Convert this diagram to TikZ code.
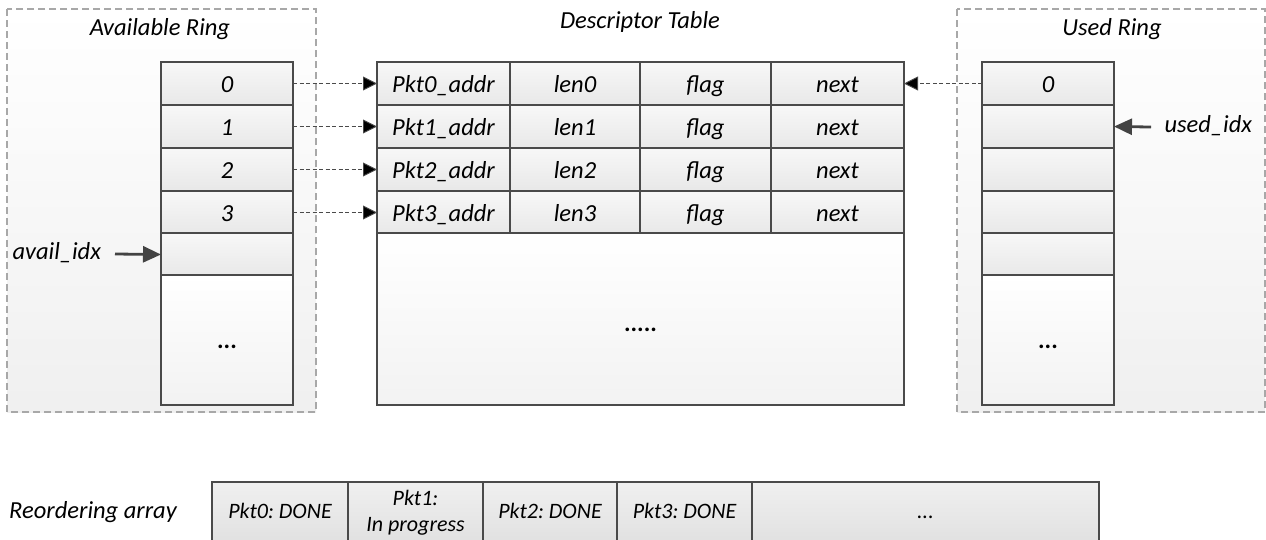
\documentclass[tikz,border=0pt]{standalone}
\usepackage{fontspec}
\setmainfont{Carlito}
\usetikzlibrary{arrows.meta}
\definecolor{edge}{HTML}{4A4A4A}
\definecolor{groupedge}{HTML}{A8A8A8}
\frenchspacing
\begin{document}
\begin{tikzpicture}[x=1pt,y=-1pt,
  every node/.style={font=\fontsize{24.5}{29}\selectfont\itshape, text=black},
  group/.style={draw=groupedge, line width=1.1pt, dash pattern=on 7pt off 4pt,
    top color=white, bottom color=black!6},
  cell/.style={draw=edge, line width=1.6pt, anchor=north west, inner sep=0pt,
    outer sep=0pt, minimum height=43pt, top color=white!97!black, bottom color=black!9,
    text height=19pt, text depth=2pt},
  bigcell/.style={draw=edge, line width=1.6pt, anchor=north west, inner sep=0pt,
    outer sep=0pt, top color=white, bottom color=black!5,
    text height=19pt, text depth=2pt, font=\fontsize{24.5}{29}\selectfont\bfseries},
  arrcell/.style={draw=edge, line width=1.6pt, anchor=north west, inner sep=0pt,
    outer sep=0pt, minimum height=62pt, top color=black!6, bottom color=black!12,
    font=\fontsize{22}{26}\selectfont\itshape, align=center},
  oneline/.style={text height=15pt, text depth=5pt},
  ptr/.style={draw=edge, line width=0.9pt, dash pattern=on 4pt off 2.5pt,
    -{Triangle[length=14pt,width=14pt,fill=black]}},
  idx/.style={draw=edge!90!black, line width=2.8pt,
    -{Triangle[length=18pt,width=16pt]}},
  title/.style={anchor=center}
]
\useasboundingbox (0,0) rectangle (1266,539);
\clip (0,0) rectangle (1266,539);

% group frames
\draw[group] (7,9) rectangle (316,412);
\draw[group] (957,9) rectangle (1265,412);
\node[title] (avtitle) at (160,29) {Available Ring};
\node[title] (dttitle) at (640,22) {Descriptor Table};
\node[title] (usedtitle) at (1112,29) {Used Ring};

% available ring
\foreach \r/\y/\t in {0/62/0,1/105/1,2/148/2,3/191/3,4/233/{}}
  \node[cell, minimum width=132pt] (a\r) at (161,\y) {\t};
\node[bigcell, minimum width=132pt, minimum height=130pt] (adots) at (161,275) {...};

% descriptor table
\foreach \r/\y in {0/62,1/105,2/148,3/191}{
  \node[cell, minimum width=133pt] (d\r1) at (377,\y) {Pkt\r\_addr};
  \node[cell, minimum width=130pt] (d\r2) at (510,\y) {len\r};
  \node[cell, minimum width=131pt] (d\r3) at (640,\y) {flag};
  \node[cell, minimum width=133pt] (d\r4) at (771,\y) {next};
}
\node[bigcell, minimum width=527pt, minimum height=172pt, text height=24pt,
  text depth=0pt] (drest) at (377,233) {.....};

% used ring
\foreach \r/\y/\t in {0/62/0,1/105/{},2/148/{},3/191/{},4/233/{}}
  \node[cell, minimum width=132pt] (u\r) at (982,\y) {\t};
\node[bigcell, minimum width=132pt, minimum height=130pt] (udots) at (982,275) {...};

% descriptor pointers
\foreach \r in {0,1,2,3}
  \draw[ptr] (a\r.east) -- (d\r1.west);
\draw[ptr] (u0.west) -- (d04.east);

% ring indices
\node[anchor=west, oneline] (availlbl) at (9,254) {avail\_idx};
\coordinate (availtail) at (115,254);
\draw[idx] (availtail) -- (a4.west);
\node[anchor=west, oneline] (usedlbl) at (1161,127) {used\_idx};
\coordinate (usedtail) at (1151,127);
\draw[idx] (usedtail) -- (u1.east);

% reordering array
\node[anchor=center, oneline] (reolbl) at (93,513) {Reordering array};
\node[arrcell, oneline, minimum width=136pt] (r0) at (212,482) {Pkt0: DONE};
\node[arrcell, minimum width=135pt] (r1) at (348,482) {Pkt1:\\In progress};
\node[arrcell, oneline, minimum width=134pt] (r2) at (483,482) {Pkt2: DONE};
\node[arrcell, oneline, minimum width=135pt] (r3) at (617,482) {Pkt3: DONE};
\node[arrcell, oneline, minimum width=347pt] (r4) at (752,482) {...};
\end{tikzpicture}
\end{document}
